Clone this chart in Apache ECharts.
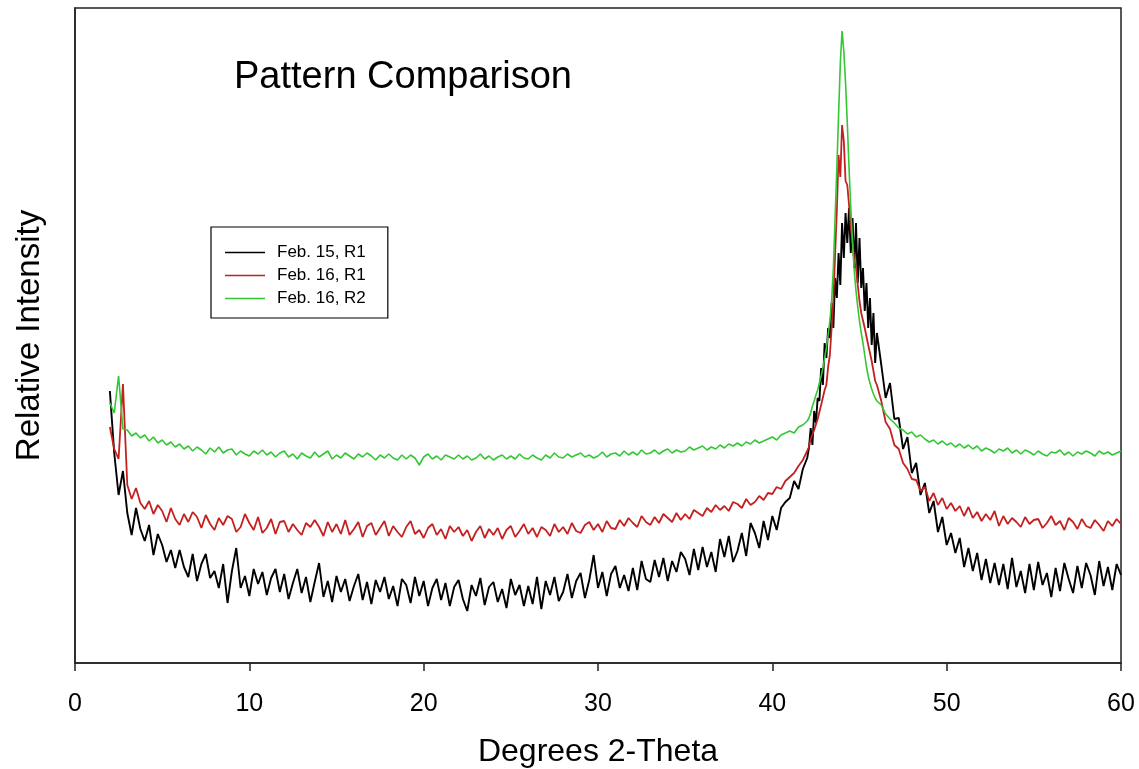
<!DOCTYPE html>
<html><head><meta charset="utf-8">
<script src="https://cdn.jsdelivr.net/npm/echarts@6/dist/echarts.min.js"></script>
<style>html,body{margin:0;padding:0;background:#fff}#c{width:1139px;height:769px}</style>
</head><body><div id="c"></div>
<script>
// x sampling grid: [start, end, step] (degrees 2-theta)
const xSegments = [[2, 42, 0.25], [42.1, 46, 0.1], [46.25, 60, 0.25]];
const xTicks = [0, 10, 20, 30, 40, 50, 60];
const seriesNames = ['Feb. 15, R1', 'Feb. 16, R1', 'Feb. 16, R2'];

// Feb. 15, R1 (relative intensity, arbitrary units)
const feb15R1_low = [272,210,168,192, 150,128,155,134, 122,138,108,129, 118,101,113,95, 113,96,86,109, 82,99,109,85, 92,75,99,60, 92,115,75,87, 67,94,79,91, 68,85,94,71, 89,64,80,94, 70,86,61,81, 100,66,82,61, 87,71,84,62, 77,89,63,81, 59,83,71,86, 64,77,57,84, 78,60,86,67, 82,57,75,84, 63,80,57,76, 83,64,52,78, 67,85,58,76, 81,61,74,55, 84,68,78,57, 77,59,86,54, 82,68,86,62, 71,89,65,82, 90,65,83,108, 75,91,67,89, 97,75,88,72, 95,73,102,84, 81,103,86,105, 82,102,91,111, 104,88,114,93, 116,96,111,91, 124,106,127,101, 112,130,107,140, 130,115,142,123, 147,133,155,161, 165,182,174,194, 205];
const feb15R1_peak = [215,235,218,252,240,265,262,295,278,320, 305,335,325,360,335,385,365,410,378,440, 405,450,420,455,410,445,395,440,380,425, 375,395,352,380,335,365,318,350,300,330];
const feb15R1_high = [298,265,280,244, 245,214,226,190, 200,168,180,150, 162,131,146,118, 130,110,125,96, 115,92,110,83, 104,80,100,78, 99,74,105,76, 92,70,99,73, 101,78,90,66, 95,72,100,84, 70,97,75,100, 88,68,102,77, 96,73,99,88];

// Feb. 16, R1
const feb16R1_low = [236,214,204,279, 178,164,175,160, 154,162,149,158, 152,141,155,144, 138,149,141,151, 146,135,148,139, 133,145,138,147, 144,131,136,149, 140,133,146,130, 135,144,129,141, 142,131,139,133, 128,140,136,143, 136,127,141,131, 139,129,143,128, 134,141,126,137, 140,128,135,142, 127,137,131,126, 136,142,129,133, 125,135,139,128, 134,124,137,131, 136,127,133,122, 131,137,125,134, 128,135,124,133, 137,126,132,139, 129,135,126,136, 133,127,139,131, 136,129,140,132, 130,138,141,133, 139,131,142,135, 134,143,137,145, 140,136,147,141, 138,146,140,149, 145,141,150,143, 149,144,153,150, 147,155,151,158, 153,157,152,161, 159,155,164,158, 161,167,163,170, 169,176,174,182, 186,190,197,203, 212];
const feb16R1_peak = [216,224,223,233,234,244,246,258,260,273, 278,296,308,335,362,408,452,508,486,538, 522,482,478,458,436,422,402,395,378,362, 350,348,335,333,318,320,302,300,282,278];
const feb16R1_high = [262,241,234,218, 214,200,194,184, 183,172,176,162, 170,158,165,154, 160,152,157,147, 156,145,151,142, 149,143,152,137, 147,139,145,141, 136,146,139,143, 144,135,140,147, 138,142,133,145, 141,134,144,137, 135,143,138,132, 142,137,144,139];

// Feb. 16, R2
const feb16R2_low = [260,250,287,234, 233,227,230,225, 228,222,226,220, 223,218,221,216, 219,214,217,212, 216,213,209,215, 211,216,210,213, 214,208,212,209, 207,212,209,213, 208,211,206,210, 212,206,209,204, 210,207,205,211, 206,209,212,204, 208,205,210,207, 204,209,206,210, 207,203,208,205, 209,205,203,208, 204,208,205,198, 206,209,204,207, 203,208,206,204, 208,204,207,203, 205,209,204,207, 203,206,208,204, 207,204,209,205, 204,208,205,203, 208,205,210,206, 205,209,206,208, 210,206,208,205, 207,211,206,209, 210,207,212,208, 211,208,213,209, 210,213,209,212, 214,210,213,211, 212,216,213,215, 217,213,216,214, 218,215,219,217, 220,217,221,219, 223,220,222,224, 226,223,228,230, 232,230,236,238, 242];
const feb16R2_peak = [245,250,257,262,268,273,280,287,295,305, 315,328,342,362,395,445,495,548,600,632, 612,580,540,495,455,420,392,372,356,342, 330,320,308,296,287,280,274,269,265,262];
const feb16R2_high = [258,249,244,240, 235,233,229,231, 226,228,224,221, 223,219,222,218, 220,216,219,215, 218,214,217,212, 215,213,210,214, 212,215,210,213, 209,213,211,208, 212,209,207,211, 210,213,208,211, 207,211,209,212, 210,207,212,209, 211,208,210,212];

const colors = ['#000000', '#c42020', '#33c733'];
const lineWidths = [1.9, 1.8, 1.6];

function buildX() {
  const xs = [];
  for (const [a, b, s] of xSegments) {
    const n = Math.round((b - a) / s);
    for (let i = 0; i <= n; i++) xs.push(+(a + i * s).toFixed(2));
  }
  return xs;
}
const xs = buildX();
function pairs(vals) {
  const out = [];
  const n = Math.min(xs.length, vals.length);
  for (let i = 0; i < n; i++) out.push([xs[i], vals[i]]);
  return out;
}
const allVals = [
  feb15R1_low.concat(feb15R1_peak, feb15R1_high),
  feb16R1_low.concat(feb16R1_peak, feb16R1_high),
  feb16R2_low.concat(feb16R2_peak, feb16R2_high)
];

const FONT = 'Liberation Sans, Arial, Helvetica, sans-serif';
// legend icon: a thin horizontal stroke inside a 40x14 box (corner dots keep the box size)
const lineIcon = 'path://M0,0 L0.01,0 L0.01,0.01 Z M0,6.3 L40,6.3 L40,7.7 L0,7.7 Z M39.99,14 L40,14 L40,13.99 Z';
const chart = echarts.init(document.getElementById('c'), null, { renderer: 'canvas' });
chart.setOption({
  backgroundColor: '#ffffff',
  animation: false,
  title: {
    text: 'Pattern Comparison', left: 234, top: 59, padding: 0,
    textStyle: { fontSize: 38, fontWeight: 'normal', fontFamily: FONT, color: '#000' }
  },
  legend: {
    orient: 'vertical', left: 211, top: 227,
    padding: [17, 22, 11, 14],
    borderColor: '#000', borderWidth: 1.2,
    itemWidth: 40, itemHeight: 14, itemGap: 6,
    icon: lineIcon,
    data: seriesNames,
    textStyle: { fontSize: 17, fontFamily: FONT, color: '#000', padding: [0, 0, 0, 7] }
  },
  grid: {
    left: 75, right: 18, top: 8, bottom: 106,
    outerBoundsMode: 'none', containLabel: false,
    show: true, borderColor: '#222', borderWidth: 1.5
  },
  xAxis: {
    type: 'value', min: 0, max: 60, interval: 10,
    name: 'Degrees 2-Theta', nameLocation: 'middle', nameGap: 73,
    nameTextStyle: { fontSize: 32, fontFamily: FONT, color: '#000' },
    axisLine: { show: true, lineStyle: { color: '#222', width: 1.5 } },
    axisTick: { show: true, inside: false, length: 8, lineStyle: { color: '#222', width: 1.5 } },
    axisLabel: { fontSize: 25, fontFamily: FONT, color: '#000', margin: 29,
      formatter: v => xTicks.includes(v) ? String(v) : '' },
    splitLine: { show: false }
  },
  yAxis: {
    type: 'value', min: 0, max: 655,
    name: 'Relative Intensity', nameLocation: 'middle', nameGap: 29, nameRotate: 90,
    nameTextStyle: { fontSize: 33, fontFamily: FONT, color: '#000' },
    axisLine: { show: true, lineStyle: { color: '#222', width: 1.5 } },
    axisTick: { show: false }, axisLabel: { show: false }, splitLine: { show: false }
  },
  series: seriesNames.map((name, i) => ({
    name, type: 'line', data: pairs(allVals[i]),
    symbol: 'none', showSymbol: false, smooth: false,
    color: colors[i],
    lineStyle: { color: colors[i], width: lineWidths[i] },
    emphasis: { disabled: true }
  }))
});
</script></body></html>
